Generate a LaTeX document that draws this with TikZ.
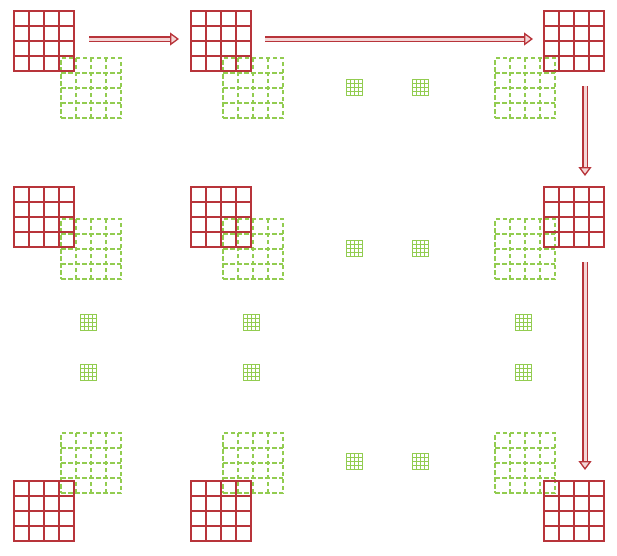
\documentclass[tikz,border=0pt]{standalone}
\usetikzlibrary{calc,arrows.meta}
\definecolor{redc}{RGB}{184,52,58}
\definecolor{greenc}{RGB}{146,204,80}
\definecolor{pinkc}{RGB}{244,214,214}
\tikzset{
  redgrid/.style={rectangle, minimum size=60pt, inner sep=0pt, outer sep=0pt, draw=redc, line width=1.8pt},
  redline/.style={draw=redc, line width=1.8pt},
  greengrid/.style={rectangle, minimum size=60pt, inner sep=0pt, outer sep=0pt, draw=greenc, line width=1.5pt,
    dash pattern=on 4.5pt off 2.5pt},
  greenline/.style={draw=greenc, line width=1.5pt, dash pattern=on 4.5pt off 2.5pt},
  smallgrid/.style={rectangle, minimum size=16pt, inner sep=0pt, outer sep=0pt, draw=greenc, line width=1pt},
  smallline/.style={draw=greenc, line width=1pt},
  fatarrow/.style={draw=redc, double=pinkc, double distance=3pt, line width=1.3pt,
    -{Triangle[open, length=9pt, width=13pt, fill=pinkc]}}
}
\begin{document}
\begin{tikzpicture}[x=1pt, y=-1pt]
\useasboundingbox (0,0) rectangle (617,555);
% green dashed grids
\node[greengrid] (G11) at (91,88) {};
\node[greengrid] (G12) at (253,88) {};
\node[greengrid] (G13) at (525,88) {};
\node[greengrid] (G21) at (91,249) {};
\node[greengrid] (G22) at (253,249) {};
\node[greengrid] (G23) at (525,249) {};
\node[greengrid] (G31) at (91,463) {};
\node[greengrid] (G32) at (253,463) {};
\node[greengrid] (G33) at (525,463) {};
\foreach \n in {G11,G12,G13,G21,G22,G23,G31,G32,G33}{
  \foreach \k in {0.25,0.5,0.75}{
    \draw[greenline] ($(\n.south west)!\k!(\n.south east)$) -- ($(\n.north west)!\k!(\n.north east)$);
    \draw[greenline] ($(\n.south west)!\k!(\n.north west)$) -- ($(\n.south east)!\k!(\n.north east)$);
  }
}
% red grids
\node[redgrid] (R11) at (44,41) {};
\node[redgrid] (R12) at (221,41) {};
\node[redgrid] (R13) at (574,41) {};
\node[redgrid] (R21) at (44,217) {};
\node[redgrid] (R22) at (221,217) {};
\node[redgrid] (R23) at (574,217) {};
\node[redgrid] (R31) at (44,511) {};
\node[redgrid] (R32) at (221,511) {};
\node[redgrid] (R33) at (574,511) {};
\foreach \n in {R11,R12,R13,R21,R22,R23,R31,R32,R33}{
  \foreach \k in {0.25,0.5,0.75}{
    \draw[redline] ($(\n.south west)!\k!(\n.south east)$) -- ($(\n.north west)!\k!(\n.north east)$);
    \draw[redline] ($(\n.south west)!\k!(\n.north west)$) -- ($(\n.south east)!\k!(\n.north east)$);
  }
}
% small grids (ellipsis)
\node[smallgrid] (s1) at (354.5,87.5) {};
\node[smallgrid] (s2) at (420.5,87.5) {};
\node[smallgrid] (s3) at (354.5,248.5) {};
\node[smallgrid] (s4) at (420.5,248.5) {};
\node[smallgrid] (s5) at (88.5,322.5) {};
\node[smallgrid] (s6) at (88.5,372.5) {};
\node[smallgrid] (s7) at (251.5,322.5) {};
\node[smallgrid] (s8) at (251.5,372.5) {};
\node[smallgrid] (s9) at (523.5,322.5) {};
\node[smallgrid] (s10) at (523.5,372.5) {};
\node[smallgrid] (s11) at (354.5,461.5) {};
\node[smallgrid] (s12) at (420.5,461.5) {};
\foreach \n in {s1,s2,s3,s4,s5,s6,s7,s8,s9,s10,s11,s12}{
  \foreach \k in {0.25,0.5,0.75}{
    \draw[smallline] ($(\n.south west)!\k!(\n.south east)$) -- ($(\n.north west)!\k!(\n.north east)$);
    \draw[smallline] ($(\n.south west)!\k!(\n.north west)$) -- ($(\n.south east)!\k!(\n.north east)$);
  }
}
% arrows
\draw[fatarrow] ($(R11.east)+(15,-2)$) -- ($(R12.west)+(-12,-2)$);
\draw[fatarrow] ($(R12.east)+(14,-2)$) -- ($(R13.west)+(-11,-2)$);
\draw[fatarrow] ($(R13.south)+(11,15)$) -- ($(R23.north)+(11,-11)$);
\draw[fatarrow] ($(R23.south)+(11,15)$) -- ($(R33.north)+(11,-11)$);
\end{tikzpicture}
\end{document}
